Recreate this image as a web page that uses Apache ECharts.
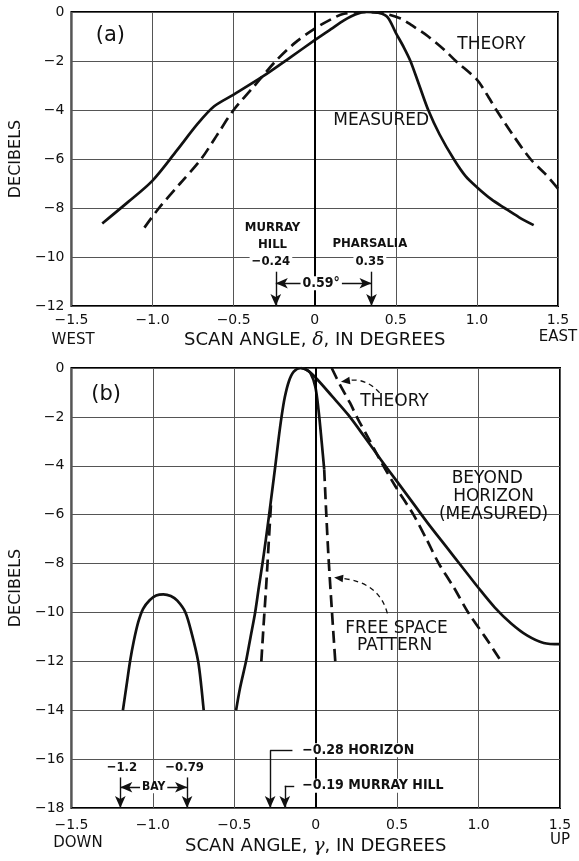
<!DOCTYPE html>
<html><head><meta charset="utf-8">
<script src="https://cdn.jsdelivr.net/npm/echarts@6/dist/echarts.min.js"></script>
<style>html,body{margin:0;padding:0;background:#fff}#c{width:579px;height:861px}</style>
</head><body><div id="c"></div>
<script>
// ---------- tick labels ----------
const xTickValues = [-1.5, -1.0, -0.5, 0, 0.5, 1.0, 1.5];
const xTickLabels = ['\u22121.5', '\u22121.0', '\u22120.5', '0', '0.5', '1.0', '1.5'];
const yTickValuesTop = [0, -2, -4, -6, -8, -10, -12];
const yTickLabelsTop = ['0', '\u22122', '\u22124', '\u22126', '\u22128', '\u221210', '\u221212'];
const yTickValuesBot = [0, -2, -4, -6, -8, -10, -12, -14, -16, -18];
const yTickLabelsBot = ['0', '\u22122', '\u22124', '\u22126', '\u22128', '\u221210', '\u221212', '\u221214', '\u221216', '\u221218'];

// ---------- panel (a) ----------
const aMeasuredX = [-1.31, -1.15, -1.0, -0.85, -0.72, -0.62, -0.5, -0.32, -0.15, 0, 0.1, 0.18, 0.25, 0.32, 0.4, 0.45, 0.5, 0.55, 0.59, 0.645, 0.7, 0.77, 0.857, 0.93, 1.0, 1.09, 1.17, 1.26, 1.35];
const aMeasuredY = [-8.63, -7.75, -6.88, -5.65, -4.55, -3.85, -3.37, -2.63, -1.85, -1.15, -0.7, -0.34, -0.1, 0, -0.04, -0.22, -0.85, -1.45, -2.0, -3.0, -4.0, -5.0, -6.0, -6.7, -7.15, -7.65, -8.0, -8.38, -8.7];
const aTheoryX = [-1.05, -0.96, -0.83, -0.7, -0.6, -0.5, -0.37, -0.24, -0.12, 0, 0.1, 0.18, 0.3, 0.42, 0.53, 0.6, 0.7, 0.8, 0.87, 1.0, 1.06, 1.12, 1.22, 1.33, 1.42, 1.5];
const aTheoryY = [-8.8, -8.0, -7.0, -6.0, -5.0, -4.0, -3.0, -2.0, -1.25, -0.68, -0.3, -0.07, 0, -0.05, -0.27, -0.55, -1.0, -1.55, -2.0, -2.76, -3.35, -4.0, -5.0, -6.0, -6.6, -7.21];
const aMurrayHill = -0.24;
const aPharsalia = 0.35;

// ---------- panel (b) ----------
const bSideLobeX = [-1.184, -1.162, -1.14, -1.118, -1.09, -1.06, -1.02, -0.98, -0.936, -0.89, -0.85, -0.80, -0.76, -0.722, -0.703, -0.688];
const bSideLobeY = [-14, -13, -12, -11.2, -10.4, -9.85, -9.5, -9.31, -9.26, -9.33, -9.52, -10.0, -10.9, -12, -13, -14];
const bMeasuredX = [-0.489, -0.465, -0.428, -0.40, -0.372, -0.35, -0.327, -0.306, -0.286, -0.267, -0.248, -0.23, -0.21, -0.19, -0.165, -0.135, -0.09, -0.05, 0, 0.1, 0.2, 0.3, 0.4, 0.5, 0.6, 0.7, 0.8, 0.9, 1.0, 1.1, 1.2, 1.3, 1.4, 1.5];
const bMeasuredY = [-14, -13.1, -12, -11, -10, -9, -8, -7, -6, -5, -4, -3, -2, -1.2, -0.55, -0.15, 0, -0.1, -0.4, -1.15, -1.92, -2.82, -3.75, -4.65, -5.55, -6.45, -7.3, -8.15, -9.0, -9.8, -10.45, -10.95, -11.25, -11.3];
const bFreeSolidX = [-0.09, -0.06, -0.033, -0.003, 0.017, 0.037, 0.052];
const bFreeSolidY = [0, -0.06, -0.2, -0.75, -1.7, -3.05, -4.14];
const bFreeDashLeftX = [-0.334, -0.32, -0.305, -0.29, -0.275];
const bFreeDashLeftY = [-12, -10.5, -9.0, -7.3, -5.6];
const bFreeDashRightX = [0.052, 0.065, 0.079, 0.1, 0.12];
const bFreeDashRightY = [-4.14, -6.0, -7.8, -10.0, -12.0];
const bTheoryX = [0.098, 0.15, 0.21, 0.26, 0.33, 0.39, 0.49, 0.6, 0.68, 0.756, 0.85, 0.936, 1.04, 1.139];
const bTheoryY = [0, -0.7, -1.42, -2.1, -2.95, -3.7, -4.85, -6.0, -7.0, -8.0, -9.0, -10.0, -11.0, -12.0];
const bBayLeft = -1.2, bBayRight = -0.79, bHorizon = -0.28, bMurrayHill = -0.19;

// ---------- helpers ----------
const zip = (xs, ys) => xs.map((x, i) => [x, ys[i]]);
const lab = (vals, labels) => v => { const i = vals.findIndex(t => Math.abs(t - v) < 1e-6); return i >= 0 ? labels[i] : ''; };
const FONT = 'DejaVu Sans';
const COND = 'DejaVu Sans Condensed';
const INK = '#111';

function xAxisCfg(gi, nameRich, gap, lblMargin) {
  return {
    gridIndex: gi, type: 'value', min: -1.5, max: 1.5, interval: 0.5,
    axisLine: { show: false }, axisTick: { show: false },
    splitLine: { show: true, lineStyle: { color: '#555', width: 1 } },
    axisLabel: { formatter: lab(xTickValues, xTickLabels), color: INK, fontFamily: FONT, fontSize: 14, margin: lblMargin },
    name: nameRich, nameLocation: 'middle', nameGap: gap,
    nameTextStyle: { color: INK, fontFamily: FONT, fontSize: 18, rich: { i: { fontStyle: 'italic', fontFamily: 'DejaVu Serif', fontSize: 19, color: INK } } }
  };
}
function yAxisCfg(gi, min, vals, labels) {
  return {
    gridIndex: gi, type: 'value', min: min, max: 0, interval: 2,
    axisLine: { show: false }, axisTick: { show: false },
    splitLine: { show: true, lineStyle: { color: '#555', width: 1 } },
    axisLabel: { formatter: lab(vals, labels), color: INK, fontFamily: FONT, fontSize: 14, margin: 7 },
    name: 'DECIBELS', nameLocation: 'middle', nameRotate: 90, nameGap: 40,
    nameTextStyle: { color: INK, fontFamily: FONT, fontSize: 16 }
  };
}
function lineSeries(gi, data, dashed, w) {
  return {
    type: 'line', xAxisIndex: gi, yAxisIndex: gi, data: data, showSymbol: false, symbol: 'none',
    smooth: 0.3, silent: true, animation: false, z: dashed ? 3 : 4,
    lineStyle: { color: INK, width: w || 2.7, type: dashed ? [12, 6] : 'solid', cap: 'butt', join: 'round' }
  };
}
const P = (x, y) => ({ coord: [x, y], symbol: 'none' });
const A = (x, y) => ({ coord: [x, y], symbol: 'arrow' });
function annoSeries(gi, items) {
  return {
    type: 'line', xAxisIndex: gi, yAxisIndex: gi, data: [], silent: true, animation: false, z: 5,
    markLine: {
      silent: true, animation: false, symbol: ['none', 'none'], symbolSize: [8, 12],
      label: { show: false }, emphasis: { disabled: true },
      lineStyle: { color: INK, width: 1.4, type: 'solid' },
      data: items
    }
  };
}

const chart = echarts.init(document.getElementById('c'), null, { renderer: 'canvas' });
const option = {
  backgroundColor: '#fff',
  animation: false,
  grid: [
    { left: 64, top: 12, width: 494, height: 294, show: true, borderColor: '#000', borderWidth: 2, backgroundColor: 'transparent' },
    { left: 67, top: 368, width: 493, height: 443, show: true, borderColor: '#000', borderWidth: 2, backgroundColor: 'transparent' }
  ],
  xAxis: [
    xAxisCfg(0, 'SCAN ANGLE, {i|δ}, IN DEGREES', 25, 7),
    xAxisCfg(1, 'SCAN ANGLE, {i|γ}, IN DEGREES', 29, 10)
  ],
  yAxis: [
    yAxisCfg(0, -12, yTickValuesTop, yTickLabelsTop),
    yAxisCfg(1, -18, yTickValuesBot, yTickLabelsBot)
  ],
  series: [
    lineSeries(0, zip(aTheoryX, aTheoryY), true),
    lineSeries(0, zip(aMeasuredX, aMeasuredY), false),
    annoSeries(0, [
      { xAxis: 0, lineStyle: { width: 2, color: '#000' } },
      [P(aMurrayHill, -10.6), A(aMurrayHill, -12)],
      [P(aPharsalia, -10.6), A(aPharsalia, -12)],
      [A(aMurrayHill, -11.07), A(aPharsalia, -11.07)]
    ]),
    lineSeries(1, zip(bTheoryX, bTheoryY), true),
    lineSeries(1, zip(bFreeDashLeftX, bFreeDashLeftY), true),
    lineSeries(1, zip(bFreeDashRightX, bFreeDashRightY), true),
    lineSeries(1, zip(bSideLobeX, bSideLobeY), false),
    lineSeries(1, zip(bMeasuredX, bMeasuredY), false),
    lineSeries(1, zip(bFreeSolidX, bFreeSolidY), false),
    annoSeries(1, [
      { xAxis: 0, lineStyle: { width: 2, color: '#000' } },
      [P(bBayLeft, -16.75), A(bBayLeft, -18)],
      [P(bBayRight, -16.75), A(bBayRight, -18)],
      [A(bBayLeft, -17.15), A(bBayRight, -17.15)],
      [P(-0.143, -15.64), P(bHorizon, -15.64)],
      [P(bHorizon, -15.64), A(bHorizon, -18)],
      [P(-0.132, -17.09), P(bMurrayHill, -17.09)],
      [P(bMurrayHill, -17.09), A(bMurrayHill, -18)]
    ])
  ]
};
chart.setOption(option);

// ---------- text and curved-arrow annotations ----------
const px = (gi, x, y) => chart.convertToPixel({ gridIndex: gi }, [x, y]);
function T(text, p, opt) {
  opt = opt || {};
  return {
    type: 'text', x: p[0], y: p[1], z: 100, silent: true,
    style: {
      text: text, fill: INK, fontFamily: opt.family || FONT, fontSize: opt.size || 17,
      fontWeight: opt.weight || 'normal', align: opt.align || 'center', verticalAlign: 'middle',
      backgroundColor: opt.bg || null, padding: opt.bg ? [0, 2] : 0
    }
  };
}
function curvedArrow(gi, s, c, e) {
  const p0 = px(gi, s[0], s[1]), pc = px(gi, c[0], c[1]), p1 = px(gi, e[0], e[1]);
  const dx = p1[0] - pc[0], dy = p1[1] - pc[1], L = Math.hypot(dx, dy);
  const ux = dx / L, uy = dy / L, len = 9, hw = 3.8;
  const bx = p1[0] - ux * len, by = p1[1] - uy * len;
  return [
    { type: 'bezierCurve', z: 100, silent: true, shape: { x1: p0[0], y1: p0[1], cpx1: pc[0], cpy1: pc[1], x2: bx, y2: by },
      style: { stroke: INK, lineWidth: 1.3, lineDash: [5, 4], fill: null } },
    { type: 'polygon', z: 100, silent: true, shape: { points: [[p1[0], p1[1]], [bx - uy * hw, by + ux * hw], [bx + uy * hw, by - ux * hw]] },
      style: { fill: INK } }
  ];
}
const condB = { family: COND, weight: 'bold', size: 13 };
const g = [
  // panel (a)
  T('(a)', px(0, -1.26, -0.98), { size: 21 }),
  T('THEORY', px(0, 1.09, -1.35), { size: 17 }),
  T('MEASURED', px(0, 0.41, -4.45), { size: 17 }),
  T('MURRAY', px(0, -0.26, -8.8), condB),
  T('HILL', px(0, -0.26, -9.5), condB),
  T('PHARSALIA', px(0, 0.34, -9.45), condB),
  T('\u22120.24', px(0, -0.27, -10.17), { family: COND, weight: 'bold', size: 13, bg: '#fff' }),
  T('0.35', px(0, 0.34, -10.17), { family: COND, weight: 'bold', size: 13, bg: '#fff' }),
  T('0.59\u00b0', px(0, 0.04, -11.07), { family: COND, weight: 'bold', size: 14, bg: '#fff' }),
  T('WEST', px(0, -1.49, -13.4), { size: 15 }),
  T('EAST', px(0, 1.5, -13.25), { size: 15 }),
  // panel (b)
  T('(b)', px(1, -1.287, -1.1), { size: 21 }),
  T('THEORY', px(1, 0.484, -1.39), { size: 17 }),
  T('BEYOND', px(1, 1.053, -4.51), { size: 17 }),
  T('HORIZON', px(1, 1.092, -5.27), { size: 17 }),
  T('(MEASURED)', px(1, 1.092, -5.99), { size: 17 }),
  T('FREE SPACE', px(1, 0.496, -10.65), { size: 17 }),
  T('PATTERN', px(1, 0.484, -11.36), { size: 17 }),
  T('\u22121.2', px(1, -1.19, -16.34), { family: COND, weight: 'bold', size: 13, bg: '#fff' }),
  T('\u22120.79', px(1, -0.805, -16.34), { family: COND, weight: 'bold', size: 13, bg: '#fff' }),
  T('BAY', px(1, -0.995, -17.15), { family: COND, weight: 'bold', size: 12, bg: '#fff' }),
  T('\u22120.28 HORIZON', px(1, -0.095, -15.64), { family: COND, weight: 'bold', size: 14, bg: '#fff', align: 'left' }),
  T('\u22120.19 MURRAY HILL', px(1, -0.095, -17.09), { family: COND, weight: 'bold', size: 14, bg: '#fff', align: 'left' }),
  T('DOWN', px(1, -1.46, -19.45), { size: 15 }),
  T('UP', px(1, 1.5, -19.3), { size: 15 })
].concat(
  curvedArrow(1, [0.393, -1.02], [0.31, -0.41], [0.155, -0.56]),
  curvedArrow(1, [0.44, -10.04], [0.39, -8.78], [0.113, -8.57])
);
chart.setOption({ graphic: g });
</script>
</body></html>
